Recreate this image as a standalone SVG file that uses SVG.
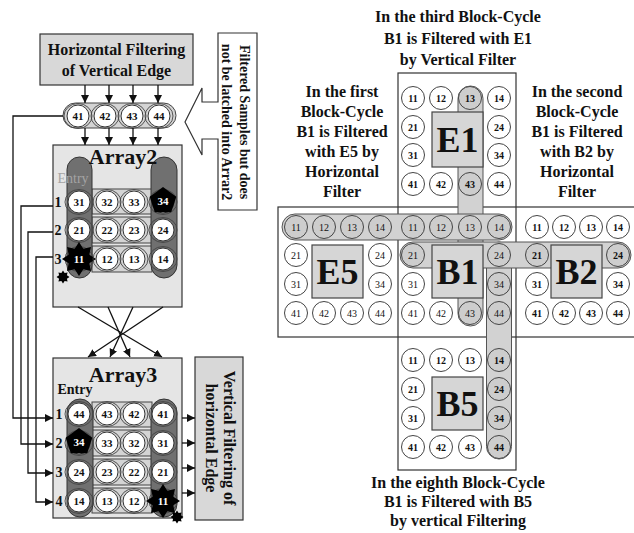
<svg xmlns="http://www.w3.org/2000/svg" xmlns:xlink="http://www.w3.org/1999/xlink" width="634" height="533" viewBox="0 0 634 533">
  <style>
    text { font-family: "Liberation Serif", "Times New Roman", serif; font-weight: bold; fill: #111; }
    .box { fill: #d8d8d8; stroke: #333; stroke-width: 1.2; }
    .arr { fill: #e5e5e5; stroke: #333; stroke-width: 1.2; }
    .pill { fill: #707070; stroke: #333; stroke-width: 1; }
    .band { fill: #d4d4d4; stroke: #444; stroke-width: 1; }
    .num { font-size: 11px; text-anchor: middle; }
    .inv { fill: #fff; }
    .lbl { font-size: 14px; text-anchor: middle; }
    .ttl { font-size: 22px; text-anchor: middle; }
    .cap { font-size: 16px; text-anchor: middle; }
    .side { font-size: 14px; text-anchor: middle; }
    .wire { fill: none; stroke: #111; stroke-width: 1.3; }
    .frame { fill: none; stroke: #333; stroke-width: 1.2; }
    .strip { fill: #d2d2d2; stroke: #555; stroke-width: 1; }
    .rc { fill: #fff; stroke: #444; stroke-width: 1; }
    .rcs { fill: #cdcdcd; stroke: #444; stroke-width: 1; }
    .rn { font-size: 10px; text-anchor: middle; font-weight: normal; }
    .rb { font-size: 10px; text-anchor: middle; }
    .blk { fill: #d6d6d6; stroke: #444; stroke-width: 1.2; }
    .big { font-size: 36px; text-anchor: middle; }
  </style>
  <defs>
    <marker id="ah" viewBox="0 0 10 10" refX="10" refY="5" markerWidth="8" markerHeight="8" orient="auto" markerUnits="userSpaceOnUse">
      <path d="M0,0 L10,5 L0,10 z" fill="#111"/>
    </marker>
    <!-- sample cell with its outer ring -->
    <g id="lc">
      <ellipse rx="14" ry="12.5" fill="none" stroke="#444" stroke-width="0.9"/>
      <circle r="11" fill="#fff" stroke="#333" stroke-width="1"/>
    </g>
    <polygon id="star" fill="#000" points="0,-17 4.3,-10.3 12,-12 10.3,-4.3 17,0 10.3,4.3 12,12 4.3,10.3 0,17 -4.3,10.3 -12,12 -10.3,4.3 -17,0 -10.3,-4.3 -12,-12 -4.3,-10.3"/>
    <polygon id="pent" fill="#000" points="0,-14 13.3,-4.3 8.2,11.3 -8.2,11.3 -13.3,-4.3"/>
  </defs>

  <rect width="634" height="533" fill="#fff"/>

  <!-- ===== left: filter pipeline ===== -->
  <g id="hfilter">
    <rect class="box" x="40" y="34" width="153" height="51"/>
    <text class="cap" x="116.5" y="55">Horizontal Filtering</text>
    <text class="cap" x="116.5" y="76">of Vertical Edge</text>
  </g>

  <g id="note">
    <path d="M218,33 H257 V210 H218 V139 H202 V155 L185,122 L202,88 V102 H218 Z" fill="#fff" stroke="#333" stroke-width="1.2"/>
    <text class="side" transform="translate(240,122) rotate(90)">Filtered Samples but does</text>
    <text class="side" transform="translate(222,122) rotate(90)">not be latched into Arrar2</text>
  </g>

  <g id="row4">
    <rect class="band" x="63" y="103" width="113" height="25" rx="12.5"/>
    <use xlink:href="#lc" x="78" y="116"/><text class="num" x="78" y="120">41</text>
    <use xlink:href="#lc" x="105" y="116"/><text class="num" x="105" y="120">42</text>
    <use xlink:href="#lc" x="132" y="116"/><text class="num" x="132" y="120">43</text>
    <use xlink:href="#lc" x="159" y="116"/><text class="num" x="159" y="120">44</text>
  </g>

  <g id="array2">
    <rect class="arr" x="53" y="145" width="129" height="162"/>
    <rect class="band" x="92" y="189" width="60" height="25"/>
    <rect class="band" x="92" y="217" width="60" height="26"/>
    <rect class="band" x="92" y="246" width="60" height="26"/>
    <rect class="pill" x="67" y="157" width="25" height="121" rx="12.5"/>
    <rect class="pill" x="151" y="157" width="26" height="121" rx="13"/>
    <text class="ttl" x="123" y="164">Array2</text>
    <text x="73" y="183" font-size="14" text-anchor="middle" style="fill:#a4a4a4;font-weight:normal">Entry</text>
    <text class="lbl" x="58" y="207">1</text>
    <text class="lbl" x="58" y="235">2</text>
    <text class="lbl" x="58" y="264">3</text>
    <use xlink:href="#lc" x="79" y="202"/><text class="num" x="79" y="206">31</text>
    <use xlink:href="#lc" x="107" y="202"/><text class="num" x="107" y="206">32</text>
    <use xlink:href="#lc" x="134" y="202"/><text class="num" x="134" y="206">33</text>
    <use xlink:href="#lc" x="163" y="202"/>
    <use xlink:href="#pent" x="163" y="201"/><text class="num inv" x="163" y="205">34</text>
    <use xlink:href="#lc" x="79" y="230"/><text class="num" x="79" y="234">21</text>
    <use xlink:href="#lc" x="107" y="230"/><text class="num" x="107" y="234">22</text>
    <use xlink:href="#lc" x="134" y="230"/><text class="num" x="134" y="234">23</text>
    <use xlink:href="#lc" x="163" y="230"/><text class="num" x="163" y="234">24</text>
    <use xlink:href="#lc" x="79" y="259"/>
    <use xlink:href="#star" x="79" y="259"/><text class="num inv" x="79" y="263">11</text>
    <use xlink:href="#star" transform="translate(63,277) scale(0.38)"/>
    <use xlink:href="#lc" x="107" y="259"/><text class="num" x="107" y="263">12</text>
    <use xlink:href="#lc" x="134" y="259"/><text class="num" x="134" y="263">13</text>
    <use xlink:href="#lc" x="163" y="259"/><text class="num" x="163" y="263">14</text>
  </g>

  <g id="array3">
    <rect class="arr" x="53" y="358" width="129" height="160"/>
    <rect class="band" x="92" y="402" width="60" height="25"/>
    <rect class="band" x="92" y="430" width="60" height="26"/>
    <rect class="band" x="92" y="459" width="60" height="26"/>
    <rect class="band" x="92" y="488" width="60" height="25"/>
    <rect class="pill" x="67" y="399" width="26" height="118" rx="13"/>
    <rect class="pill" x="151" y="399" width="26" height="118" rx="13"/>
    <text class="ttl" x="123" y="382">Array3</text>
    <text x="75" y="394" font-size="14" text-anchor="middle">Entry</text>
    <text class="lbl" x="59" y="419">1</text>
    <text class="lbl" x="59" y="448">2</text>
    <text class="lbl" x="59" y="477">3</text>
    <text class="lbl" x="59" y="506">4</text>
    <use xlink:href="#lc" x="79" y="414"/><text class="num" x="79" y="418">44</text>
    <use xlink:href="#lc" x="107" y="414"/><text class="num" x="107" y="418">43</text>
    <use xlink:href="#lc" x="134" y="414"/><text class="num" x="134" y="418">42</text>
    <use xlink:href="#lc" x="163" y="414"/><text class="num" x="163" y="418">41</text>
    <use xlink:href="#lc" x="79" y="443"/>
    <use xlink:href="#pent" x="79" y="442"/><text class="num inv" x="79" y="446">34</text>
    <use xlink:href="#lc" x="107" y="443"/><text class="num" x="107" y="447">33</text>
    <use xlink:href="#lc" x="134" y="443"/><text class="num" x="134" y="447">32</text>
    <use xlink:href="#lc" x="163" y="443"/><text class="num" x="163" y="447">31</text>
    <use xlink:href="#lc" x="79" y="472"/><text class="num" x="79" y="476">24</text>
    <use xlink:href="#lc" x="107" y="472"/><text class="num" x="107" y="476">23</text>
    <use xlink:href="#lc" x="134" y="472"/><text class="num" x="134" y="476">22</text>
    <use xlink:href="#lc" x="163" y="472"/><text class="num" x="163" y="476">21</text>
    <use xlink:href="#lc" x="79" y="501"/><text class="num" x="79" y="505">14</text>
    <use xlink:href="#lc" x="107" y="501"/><text class="num" x="107" y="505">13</text>
    <use xlink:href="#lc" x="134" y="501"/><text class="num" x="134" y="505">12</text>
    <use xlink:href="#lc" x="163" y="501"/>
    <use xlink:href="#star" x="163" y="501"/><text class="num inv" x="163" y="505">11</text>
    <use xlink:href="#star" transform="translate(177,517) scale(0.38)"/>
  </g>

  <g id="vfilter">
    <rect class="box" x="195" y="357" width="48" height="163"/>
    <text class="cap" transform="translate(224,438) rotate(90)">Vertical Filtering of</text>
    <text class="cap" transform="translate(206,438) rotate(90)">horizontal Edge</text>
  </g>

  <g id="connectors">
    <line class="wire" x1="85" y1="85" x2="85" y2="103" marker-end="url(#ah)"/>
    <line class="wire" x1="109" y1="85" x2="109" y2="103" marker-end="url(#ah)"/>
    <line class="wire" x1="133" y1="85" x2="133" y2="103" marker-end="url(#ah)"/>
    <line class="wire" x1="158" y1="85" x2="158" y2="103" marker-end="url(#ah)"/>
    <line class="wire" x1="85" y1="128" x2="85" y2="145" marker-end="url(#ah)"/>
    <line class="wire" x1="109" y1="128" x2="109" y2="145" marker-end="url(#ah)"/>
    <line class="wire" x1="133" y1="128" x2="133" y2="145" marker-end="url(#ah)"/>
    <line class="wire" x1="158" y1="128" x2="158" y2="145" marker-end="url(#ah)"/>
    <polyline class="wire" points="63,116 13,116 13,418 53,418" marker-end="url(#ah)"/>
    <polyline class="wire" points="53,206 21,206 21,444 53,444" marker-end="url(#ah)"/>
    <polyline class="wire" points="53,232 28,232 28,473 53,473" marker-end="url(#ah)"/>
    <polyline class="wire" points="53,257 36,257 36,502 53,502" marker-end="url(#ah)"/>
    <line class="wire" x1="78" y1="307" x2="162" y2="357" marker-end="url(#ah)"/>
    <line class="wire" x1="163" y1="307" x2="88" y2="357" marker-end="url(#ah)"/>
    <line class="wire" x1="108" y1="307" x2="130" y2="357" marker-end="url(#ah)"/>
    <line class="wire" x1="133" y1="307" x2="110" y2="357" marker-end="url(#ah)"/>
    <line class="wire" x1="182" y1="418" x2="195" y2="418" marker-end="url(#ah)"/>
    <line class="wire" x1="182" y1="443" x2="195" y2="443" marker-end="url(#ah)"/>
    <line class="wire" x1="182" y1="468" x2="195" y2="468" marker-end="url(#ah)"/>
    <line class="wire" x1="182" y1="493" x2="195" y2="493" marker-end="url(#ah)"/>
  </g>

  <!-- ===== right: block neighbourhood ===== -->
  <g id="frames">
    <rect class="frame" x="398" y="73" width="118" height="397"/>
    <rect class="frame" x="278" y="207" width="362" height="130"/>
  </g>

  <g id="paths">
    <rect class="strip" x="458" y="86" width="25" height="240" rx="12.5"/>
    <rect class="strip" x="486.5" y="242" width="25" height="217" rx="12.5"/>
    <rect class="strip" x="282" y="214" width="230" height="26" rx="13"/>
    <rect class="strip" x="400" y="242" width="231" height="26" rx="13"/>
  </g>

  <g id="E1">
    <circle class="rc" cx="413" cy="98" r="11.5"/><text class="rb" x="413" y="101.5">11</text>
    <circle class="rc" cx="441" cy="98" r="11.5"/><text class="rb" x="441" y="101.5">12</text>
    <circle class="rcs" cx="470" cy="98" r="11.5"/><text class="rb" x="470" y="101.5">13</text>
    <circle class="rc" cx="499" cy="98" r="11.5"/><text class="rb" x="499" y="101.5">14</text>
    <circle class="rc" cx="413" cy="127" r="11.5"/><text class="rb" x="413" y="130.5">21</text>
    <circle class="rc" cx="499" cy="127" r="11.5"/><text class="rb" x="499" y="130.5">24</text>
    <circle class="rc" cx="413" cy="155" r="11.5"/><text class="rb" x="413" y="158.5">31</text>
    <circle class="rc" cx="499" cy="155" r="11.5"/><text class="rb" x="499" y="158.5">34</text>
    <circle class="rc" cx="413" cy="184" r="11.5"/><text class="rb" x="413" y="187.5">41</text>
    <circle class="rc" cx="441" cy="184" r="11.5"/><text class="rb" x="441" y="187.5">42</text>
    <circle class="rcs" cx="470" cy="184" r="11.5"/><text class="rb" x="470" y="187.5">43</text>
    <circle class="rc" cx="499" cy="184" r="11.5"/><text class="rb" x="499" y="187.5">44</text>
    <rect class="blk" x="432" y="112" width="51" height="55"/>
    <text class="big" x="457.5" y="152">E1</text>
  </g>

  <g id="E5">
    <circle class="rcs" cx="296" cy="227" r="11.5"/><text class="rn" x="296" y="230.5">11</text>
    <circle class="rcs" cx="324" cy="227" r="11.5"/><text class="rn" x="324" y="230.5">12</text>
    <circle class="rcs" cx="352" cy="227" r="11.5"/><text class="rn" x="352" y="230.5">13</text>
    <circle class="rcs" cx="380" cy="227" r="11.5"/><text class="rn" x="380" y="230.5">14</text>
    <circle class="rc" cx="296" cy="255" r="11.5"/><text class="rn" x="296" y="258.5">21</text>
    <circle class="rc" cx="380" cy="255" r="11.5"/><text class="rn" x="380" y="258.5">24</text>
    <circle class="rc" cx="296" cy="284" r="11.5"/><text class="rn" x="296" y="287.5">31</text>
    <circle class="rc" cx="380" cy="284" r="11.5"/><text class="rn" x="380" y="287.5">34</text>
    <circle class="rc" cx="296" cy="313" r="11.5"/><text class="rn" x="296" y="316.5">41</text>
    <circle class="rc" cx="324" cy="313" r="11.5"/><text class="rn" x="324" y="316.5">42</text>
    <circle class="rc" cx="352" cy="313" r="11.5"/><text class="rn" x="352" y="316.5">43</text>
    <circle class="rc" cx="380" cy="313" r="11.5"/><text class="rn" x="380" y="316.5">44</text>
    <rect class="blk" x="312" y="245" width="51" height="53"/>
    <text class="big" x="337.5" y="284">E5</text>
  </g>

  <g id="B1">
    <circle class="rcs" cx="413" cy="227" r="11.5"/><text class="rn" x="413" y="230.5">11</text>
    <circle class="rcs" cx="441" cy="227" r="11.5"/><text class="rn" x="441" y="230.5">12</text>
    <circle class="rcs" cx="470" cy="227" r="11.5"/><text class="rn" x="470" y="230.5">13</text>
    <circle class="rcs" cx="499" cy="227" r="11.5"/><text class="rn" x="499" y="230.5">14</text>
    <circle class="rcs" cx="413" cy="255" r="11.5"/><text class="rn" x="413" y="258.5">21</text>
    <circle class="rcs" cx="499" cy="255" r="11.5"/><text class="rn" x="499" y="258.5">24</text>
    <circle class="rc" cx="413" cy="284" r="11.5"/><text class="rn" x="413" y="287.5">31</text>
    <circle class="rcs" cx="499" cy="284" r="11.5"/><text class="rn" x="499" y="287.5">34</text>
    <circle class="rc" cx="413" cy="313" r="11.5"/><text class="rn" x="413" y="316.5">41</text>
    <circle class="rc" cx="441" cy="313" r="11.5"/><text class="rn" x="441" y="316.5">42</text>
    <circle class="rcs" cx="470" cy="313" r="11.5"/><text class="rn" x="470" y="316.5">43</text>
    <circle class="rcs" cx="499" cy="313" r="11.5"/><text class="rn" x="499" y="316.5">44</text>
    <rect class="blk" x="432" y="245" width="51" height="53"/>
    <text class="big" x="457.5" y="284">B1</text>
  </g>

  <g id="B2">
    <circle class="rc" cx="537" cy="227" r="11.5"/><text class="rb" x="537" y="230.5">11</text>
    <circle class="rc" cx="564" cy="227" r="11.5"/><text class="rb" x="564" y="230.5">12</text>
    <circle class="rc" cx="591" cy="227" r="11.5"/><text class="rb" x="591" y="230.5">13</text>
    <circle class="rc" cx="618" cy="227" r="11.5"/><text class="rb" x="618" y="230.5">14</text>
    <circle class="rcs" cx="537" cy="255" r="11.5"/><text class="rb" x="537" y="258.5">21</text>
    <circle class="rcs" cx="618" cy="255" r="11.5"/><text class="rb" x="618" y="258.5">24</text>
    <circle class="rc" cx="537" cy="284" r="11.5"/><text class="rb" x="537" y="287.5">31</text>
    <circle class="rc" cx="618" cy="284" r="11.5"/><text class="rb" x="618" y="287.5">34</text>
    <circle class="rc" cx="537" cy="313" r="11.5"/><text class="rb" x="537" y="316.5">41</text>
    <circle class="rc" cx="564" cy="313" r="11.5"/><text class="rb" x="564" y="316.5">42</text>
    <circle class="rc" cx="591" cy="313" r="11.5"/><text class="rb" x="591" y="316.5">43</text>
    <circle class="rc" cx="618" cy="313" r="11.5"/><text class="rb" x="618" y="316.5">44</text>
    <rect class="blk" x="551" y="245" width="51" height="53"/>
    <text class="big" x="576.5" y="284">B2</text>
  </g>

  <g id="B5">
    <circle class="rc" cx="413" cy="360" r="11.5"/><text class="rb" x="413" y="363.5">11</text>
    <circle class="rc" cx="441" cy="360" r="11.5"/><text class="rb" x="441" y="363.5">12</text>
    <circle class="rc" cx="470" cy="360" r="11.5"/><text class="rb" x="470" y="363.5">13</text>
    <circle class="rcs" cx="499" cy="360" r="11.5"/><text class="rb" x="499" y="363.5">14</text>
    <circle class="rc" cx="413" cy="389" r="11.5"/><text class="rb" x="413" y="392.5">21</text>
    <circle class="rcs" cx="499" cy="389" r="11.5"/><text class="rb" x="499" y="392.5">24</text>
    <circle class="rc" cx="413" cy="418" r="11.5"/><text class="rb" x="413" y="421.5">31</text>
    <circle class="rcs" cx="499" cy="418" r="11.5"/><text class="rb" x="499" y="421.5">34</text>
    <circle class="rc" cx="413" cy="447" r="11.5"/><text class="rb" x="413" y="450.5">41</text>
    <circle class="rc" cx="441" cy="447" r="11.5"/><text class="rb" x="441" y="450.5">42</text>
    <circle class="rc" cx="470" cy="447" r="11.5"/><text class="rb" x="470" y="450.5">43</text>
    <circle class="rcs" cx="499" cy="447" r="11.5"/><text class="rb" x="499" y="450.5">44</text>
    <rect class="blk" x="432" y="377" width="51" height="53"/>
    <text class="big" x="457.5" y="416">B5</text>
  </g>

  <g id="captions">
    <text class="cap" x="458" y="22">In the third Block-Cycle</text>
    <text class="cap" x="458" y="44">B1 is Filtered with E1</text>
    <text class="cap" x="458" y="65">by Vertical Filter</text>
    <text class="cap" x="342" y="97">In the first</text>
    <text class="cap" x="342" y="117">Block-Cycle</text>
    <text class="cap" x="342" y="137">B1 is Filtered</text>
    <text class="cap" x="342" y="157">with E5 by</text>
    <text class="cap" x="342" y="177">Horizontal</text>
    <text class="cap" x="342" y="197">Filter</text>
    <text class="cap" x="577" y="97">In the second</text>
    <text class="cap" x="577" y="117">Block-Cycle</text>
    <text class="cap" x="577" y="137">B1 is Filtered</text>
    <text class="cap" x="577" y="157">with B2 by</text>
    <text class="cap" x="577" y="177">Horizontal</text>
    <text class="cap" x="577" y="197">Filter</text>
    <text class="cap" x="458" y="488">In the eighth Block-Cycle</text>
    <text class="cap" x="458" y="507">B1 is Filtered with B5</text>
    <text class="cap" x="458" y="526">by vertical Filtering</text>
  </g>
</svg>
